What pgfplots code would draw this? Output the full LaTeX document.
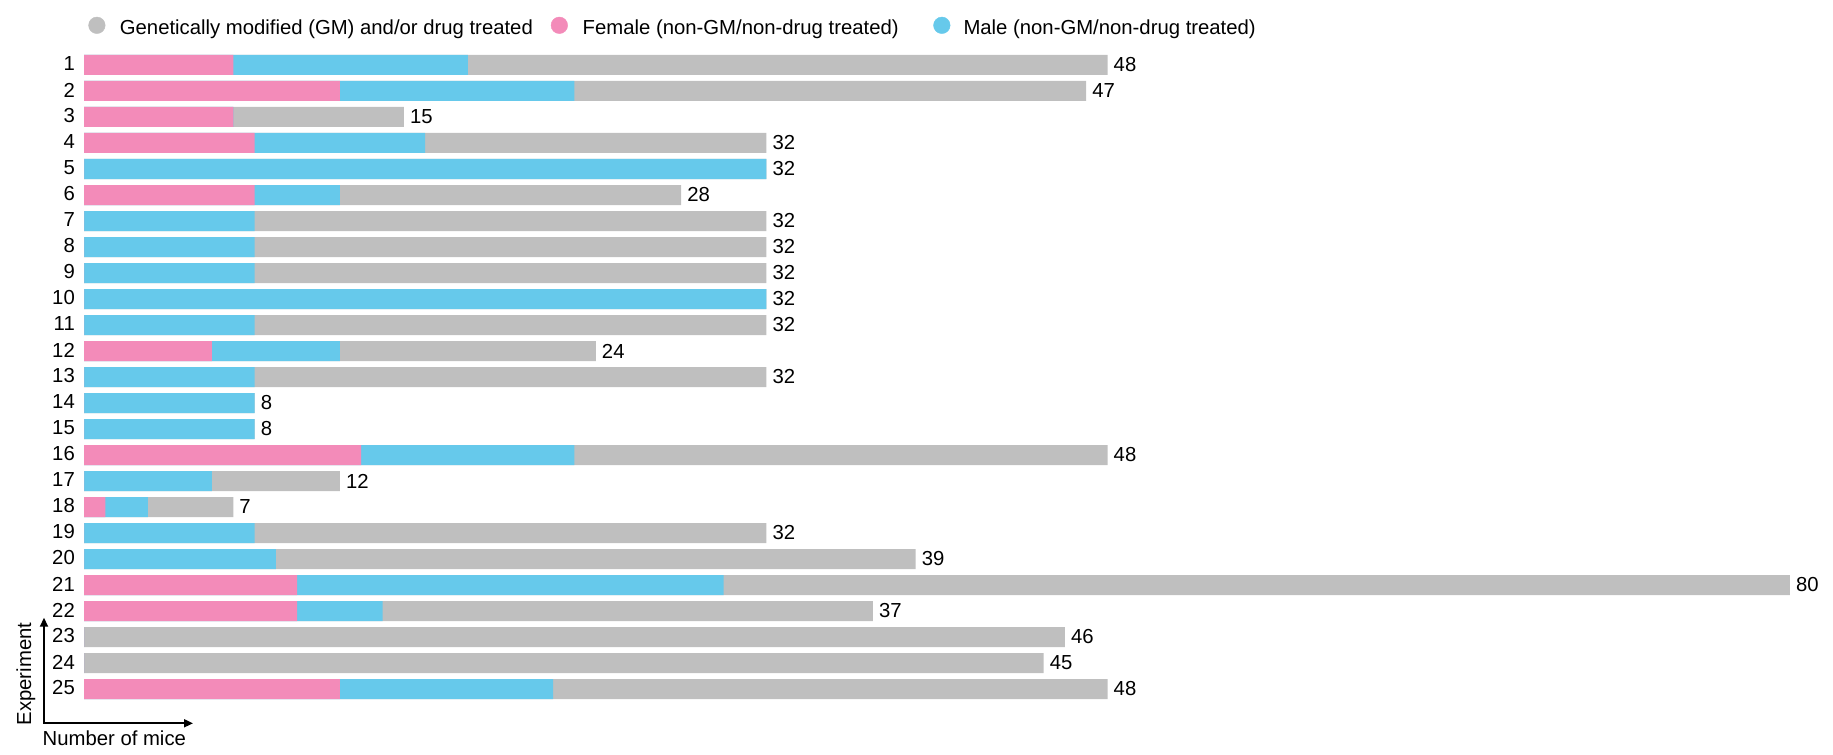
\documentclass[border=0pt]{standalone}
\usepackage{fontspec}
\setmainfont{Liberation Sans}
\usepackage{pgfplots}
\pgfplotsset{compat=1.18}
\usepackage{pgfplotstable}
\usetikzlibrary{arrows.meta}

\definecolor{gmgray}{HTML}{BFBFBF}
\definecolor{fpink}{HTML}{F38BB9}
\definecolor{mblue}{HTML}{66C9EB}

\newcommand{\fs}{\fontsize{20.3bp}{24bp}\selectfont}

% F = female, M = male, GM = genetically modified / drug treated, total = F+M+GM
\pgfplotstableread{
row F M GM total
1 7 11 30 48
2 12 11 24 47
3 7 0 8 15
4 8 8 16 32
5 0 32 0 32
6 8 4 16 28
7 0 8 24 32
8 0 8 24 32
9 0 8 24 32
10 0 32 0 32
11 0 8 24 32
12 6 6 12 24
13 0 8 24 32
14 0 8 0 8
15 0 8 0 8
16 13 10 25 48
17 0 6 6 12
18 1 2 4 7
19 0 8 24 32
20 0 9 30 39
21 10 20 50 80
22 10 4 23 37
23 0 0 46 46
24 0 0 45 45
25 12 10 26 48
}\data

\begin{document}
\begin{tikzpicture}
\useasboundingbox (0,0) rectangle (1833bp,755bp);
\begin{axis}[
  at={(84bp,703bp)}, anchor=north west,
  scale only axis, width=1706bp, height=650bp,
  xmin=0, xmax=80, ymin=0.5, ymax=25.5, y dir=reverse,
  xbar, bar width=20bp,
  axis line style={draw=none}, major tick length=0pt,
  xtick=\empty, ytick={1,...,25},
  yticklabel={\pgfmathprintnumber[assume math mode=true]{\tick}},
  yticklabel style={font=\fs, anchor=east, inner sep=0pt, xshift=-9bp, yshift=1bp},
  clip=false,
  legend columns=3,
  legend style={draw=none, fill=none, inner sep=0pt, outer sep=0pt,
    at={(0.00258,1.0379)}, anchor=west, font=\fs,
    column sep=0pt, row sep=0pt,
    /tikz/every odd column/.style={},
    /tikz/every even column/.style={},
    cells={anchor=west, inner sep=0pt}},
]
\addlegendimage{legend image code/.code={\fill[gmgray] (0bp,2.5bp) circle (8.3bp); \path (20.8bp,2.5bp);}}
\addlegendentry{Genetically modified (GM) and/or drug treated}
\addlegendimage{legend image code/.code={\path (-24.3bp,2.5bp); \fill[fpink] (0bp,2.5bp) circle (8.3bp); \path (21.2bp,2.5bp);}}
\addlegendentry{Female (non-GM/non-drug treated)}
\addlegendimage{legend image code/.code={\path (-41bp,2.5bp); \fill[mblue] (0bp,2.5bp) circle (8.3bp); \path (19.5bp,2.5bp);}}
\addlegendentry{Male (non-GM/non-drug treated)}

% total bar (GM part shows beyond F+M), labelled with total
\addplot[fill=gmgray, draw=none, bar shift=0pt, point meta=explicit,
  nodes near coords={\pgfmathprintnumber[assume math mode=true]{\pgfplotspointmeta}},
  nodes near coords style={font=\fs, anchor=west, inner sep=0pt, xshift=6bp}]
  table[x=total, y=row, meta=total]{\data};
% female + male
\addplot[fill=mblue, draw=none, bar shift=0pt]
  table[x expr=\thisrow{F}+\thisrow{M}, y=row]{\data};
% female
\addplot[fill=fpink, draw=none, bar shift=0pt]
  table[x=F, y=row]{\data};
\end{axis}
\draw[line width=1.8bp, {Triangle[length=9bp,width=8bp]}-{Triangle[length=9bp,width=8bp]}]
  (44bp,137.3bp) -- (44bp,31.7bp) -- (193bp,31.7bp);
\node[font=\fs, anchor=base west, inner sep=0pt] at (42.5bp,10bp) {Number of mice};
\node[font=\fs, rotate=90, anchor=base, inner sep=0pt] at (31bp,81bp) {Experiment};
\end{tikzpicture}
\end{document}
